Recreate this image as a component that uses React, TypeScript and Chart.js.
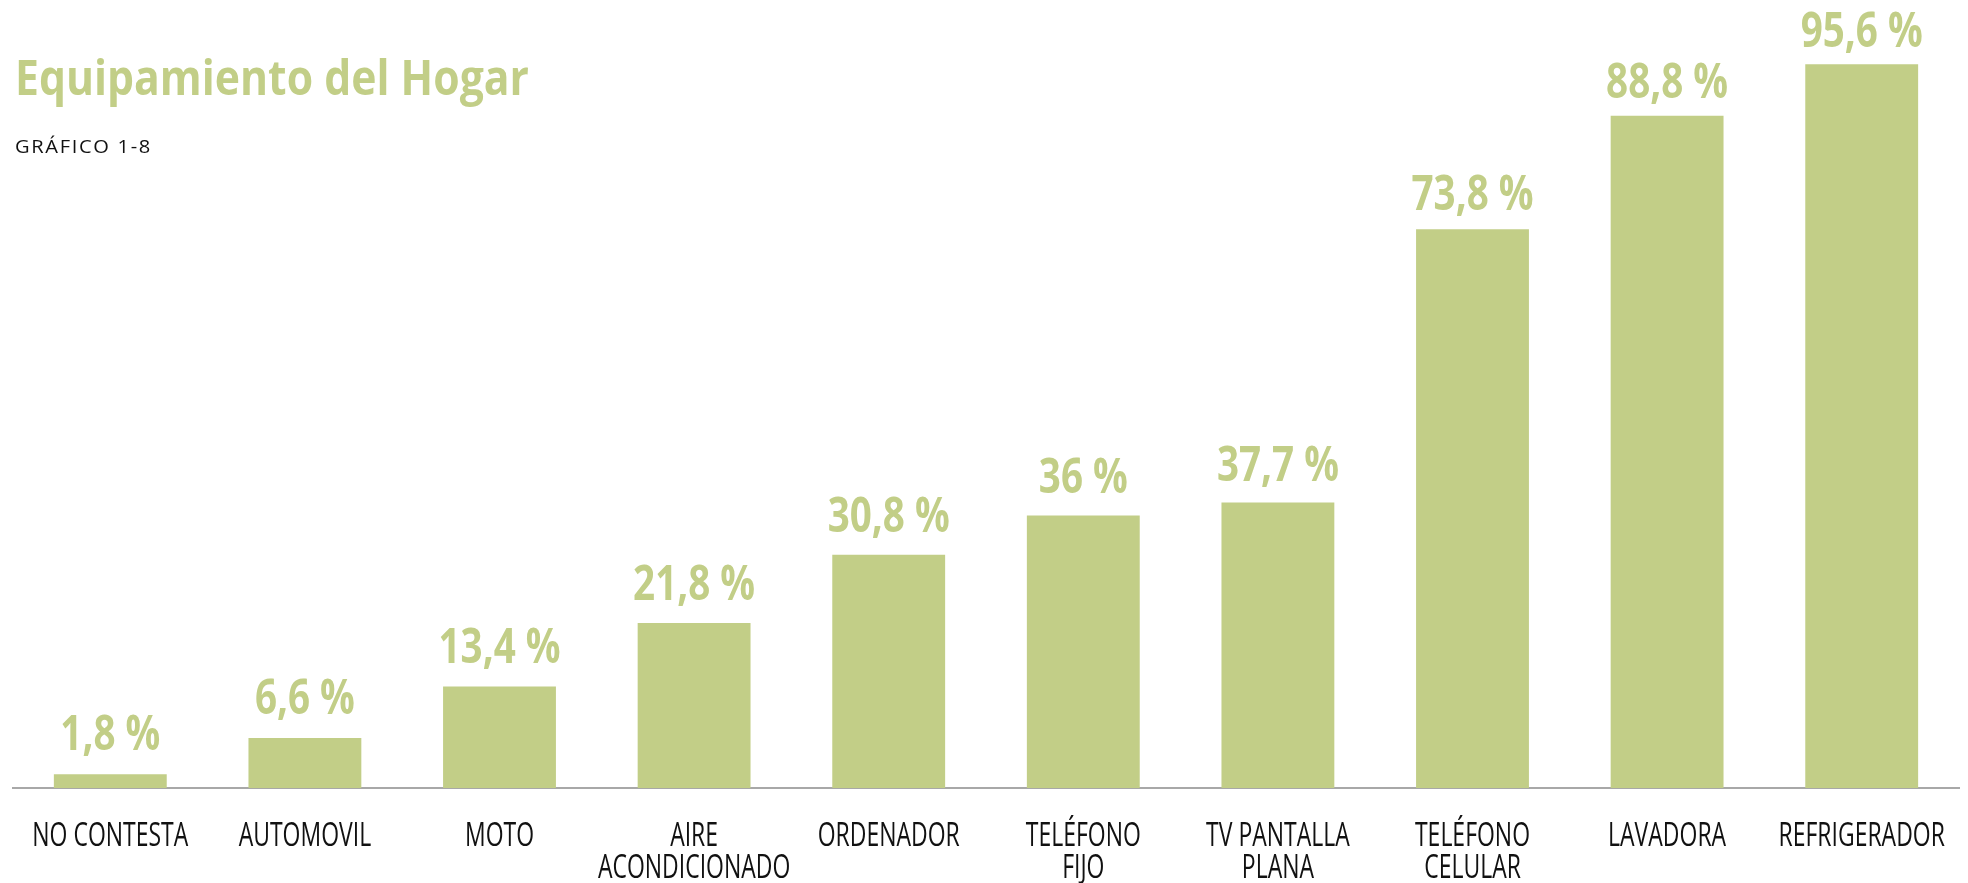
import React, { useEffect, useRef } from "react";
import { Chart, registerables } from "chart.js";

Chart.register(...registerables);

const TITLE = "Equipamiento del Hogar";
const SUBTITLE = "GRÁFICO 1-8";
const categories: string[][] = [
  ["NO CONTESTA"],
  ["AUTOMOVIL"],
  ["MOTO"],
  ["AIRE", "ACONDICIONADO"],
  ["ORDENADOR"],
  ["TELÉFONO", "FIJO"],
  ["TV PANTALLA", "PLANA"],
  ["TELÉFONO", "CELULAR"],
  ["LAVADORA"],
  ["REFRIGERADOR"],
];
const values: number[] = [1.8, 6.6, 13.4, 21.8, 30.8, 36, 37.7, 73.8, 88.8, 95.6];
const valueLabels: string[] = values.map((v) => String(v).replace(".", ",") + " %");

const GREEN = "#c2ce87";
const AXIS_GREY = "#a8a8a8";
const FONT = "'Open Sans', 'Noto Sans', sans-serif";

function drawScaled(
  ctx: CanvasRenderingContext2D,
  text: string,
  x: number,
  y: number,
  sx: number,
  align: CanvasTextAlign
) {
  ctx.save();
  ctx.translate(x, y);
  ctx.scale(sx, 1);
  ctx.textAlign = align;
  ctx.textBaseline = "alphabetic";
  ctx.fillText(text, 0, 0);
  ctx.restore();
}

const textPlugin = {
  id: "textPlugin",
  afterDraw(chart: any) {
    const ctx: CanvasRenderingContext2D = chart.ctx;
    const area = chart.chartArea;
    ctx.save();

    // Title
    ctx.fillStyle = GREEN;
    ctx.font = `700 49px ${FONT}`;
    let sx = 514 / ctx.measureText(TITLE).width;
    drawScaled(ctx, TITLE, 15, 95, sx, "left");

    // Subtitle
    ctx.fillStyle = "#111111";
    ctx.font = `400 18px ${FONT}`;
    (ctx as any).letterSpacing = "1.5px";
    sx = 137 / ctx.measureText(SUBTITLE).width;
    drawScaled(ctx, SUBTITLE, 15, 153, sx, "left");
    (ctx as any).letterSpacing = "0px";

    // Value labels
    const meta = chart.getDatasetMeta(0);
    ctx.fillStyle = GREEN;
    ctx.font = `700 49px ${FONT}`;
    sx = 122 / ctx.measureText("95,6 %").width;
    meta.data.forEach((bar: any, i: number) => {
      const gap = 25 - 0.08 * values[i];
      drawScaled(ctx, valueLabels[i], bar.x, bar.y - gap, sx, "center");
    });

    // Category labels
    const xScale = chart.scales.x;
    ctx.fillStyle = "#111111";
    ctx.font = `400 33px ${FONT}`;
    sx = 156 / ctx.measureText("NO CONTESTA").width;
    (chart.data.labels as string[][]).forEach((lines, i) => {
      const x = xScale.getPixelForValue(i);
      lines.forEach((line, j) => {
        drawScaled(ctx, line, x, area.bottom + 58 + j * 32, sx, "center");
      });
    });

    ctx.restore();
  },
};

export default function App() {
  const ref = useRef<HTMLCanvasElement | null>(null);

  useEffect(() => {
    if (!ref.current) return;
    const chart = new Chart(ref.current, {
      type: "bar",
      data: {
        labels: categories as any,
        datasets: [
          {
            data: values,
            backgroundColor: GREEN,
            borderWidth: 0,
            categoryPercentage: 1,
            barPercentage: 0.58,
          },
        ],
      },
      options: {
        responsive: false,
        animation: false,
        layout: { padding: { top: 31, left: 13, right: 9, bottom: 0 } },
        plugins: {
          legend: { display: false },
          title: { display: false },
          tooltip: { enabled: false },
        },
        scales: {
          x: {
            grid: { display: false, drawTicks: false },
            border: { display: true, color: AXIS_GREY, width: 2 },
            ticks: { display: false },
            afterFit: (scale: any) => {
              scale.height = 95;
            },
          },
          y: {
            display: false,
            min: 0,
            max: 100,
          },
        },
      },
      plugins: [textPlugin],
    });
    return () => chart.destroy();
  }, []);

  return (
    <div style={{ position: "fixed", left: 0, top: 0, width: 1968, height: 883, background: "#ffffff" }}>
      <canvas ref={ref} width={1968} height={883} style={{ display: "block" }} />
    </div>
  );
}
